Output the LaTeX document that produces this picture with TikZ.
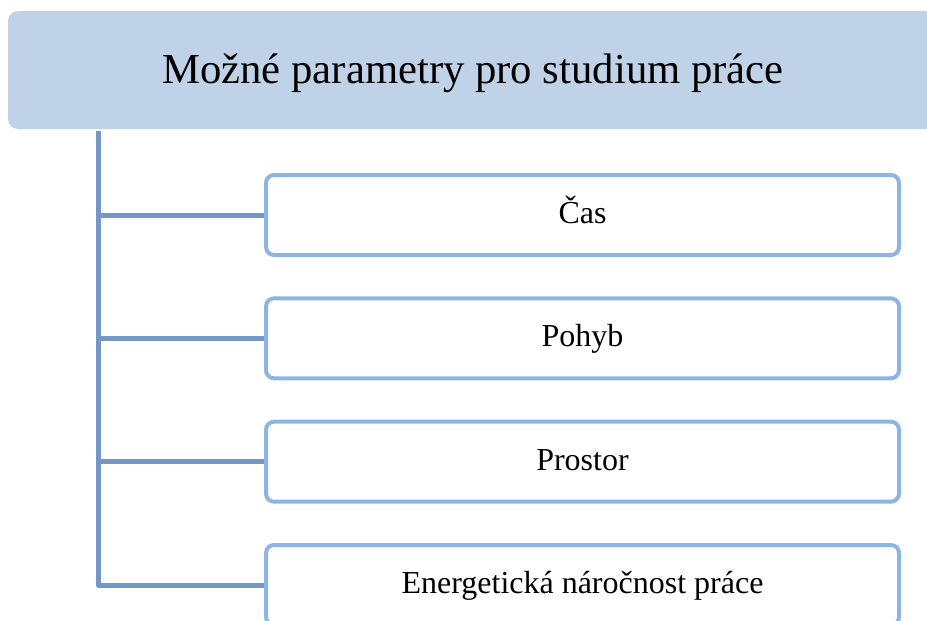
\documentclass[tikz,border=0pt]{standalone}
\usepackage{fontspec}
\setmainfont{Liberation Serif}
\definecolor{headfill}{HTML}{BFD2E8}
\definecolor{connblue}{HTML}{7397C7}
\definecolor{boxblue}{HTML}{8EB4E3}
\tikzset{
  header/.style={fill=headfill, draw=none, rounded corners=10pt,
    minimum width=930pt, minimum height=118pt, inner sep=0pt,
    font=\fontsize{42.7}{48}\selectfont, text height=34pt, text depth=8pt},
  item/.style={draw=boxblue, fill=white, line width=4pt, rounded corners=8pt,
    minimum width=633pt, minimum height=80pt, inner sep=0pt,
    font=\fontsize{32}{38}\selectfont, text height=23pt, text depth=6.4pt},
  conn/.style={draw=connblue, line width=5pt, line join=round}
}
\begin{document}
\begin{tikzpicture}[x=1pt,y=-1pt]
  \useasboundingbox (0,0) rectangle (927,621);
  \clip (0,0) rectangle (927,621);
  \node[header] (head) at (473,70) {Možné parametry pro studium práce};
  \coordinate (trunk) at (98.5,131);
  \node[item] (b1) at (582.5,215)   {Čas};
  \node[item] (b2) at (582.5,338.3) {Pohyb};
  \node[item] (b3) at (582.5,461.7) {Prostor};
  \node[item] (b4) at (582.5,585)   {Energetická náročnost práce};
  \draw[conn] (trunk) |- (b4.west);
  \draw[conn] (trunk |- b1.west) -- (b1.west);
  \draw[conn] (trunk |- b2.west) -- (b2.west);
  \draw[conn] (trunk |- b3.west) -- (b3.west);
\end{tikzpicture}
\end{document}
